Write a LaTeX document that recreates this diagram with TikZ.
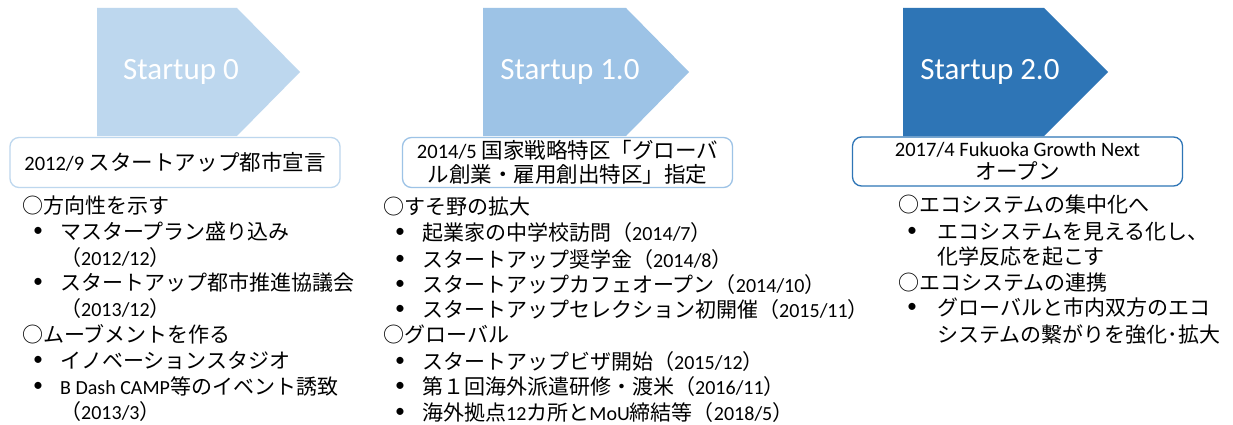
\documentclass[tikz,border=0pt]{standalone}
\usepackage{fontspec}
\setmainfont{Carlito}
\newfontfamily\jpf[Scale=1.05]{Noto Sans CJK JP}
\newcommand\J[1]{{\jpf #1}}
\definecolor{cA}{HTML}{BDD7EE}
\definecolor{cB}{HTML}{9DC3E6}
\definecolor{cC}{HTML}{2E75B6}
\tikzset{
  stagelabel/.style={text=white,font=\fontsize{31}{36}\selectfont,inner sep=0pt},
  datebox/.style={draw=#1,line width=1.3pt,fill=white,rounded corners=9pt,minimum width=330pt,minimum height=50pt,align=center,inner sep=0pt,font=\fontsize{20.5}{23.5}\selectfont},
  item/.style={anchor=base west,inner sep=0pt,font=\fontsize{20}{24}\selectfont},
  dot/.style={inner sep=0pt,font=\fontsize{20}{24}\selectfont}
}
\begin{document}
\begin{tikzpicture}[x=1pt,y=-1pt]
\useasboundingbox[fill=white] (0,0) rectangle (1233,425);
% stage arrows
\fill[cA] (97,8) -- (237,8) -- (300,72) -- (237,136) -- (97,136) -- cycle;
\fill[cB] (483,8) -- (626,8) -- (689,72) -- (626,136) -- (483,136) -- cycle;
\fill[cC] (903,8) -- (1044,8) -- (1108,72) -- (1044,136) -- (903,136) -- cycle;
\node[stagelabel] (s0) at (181,72) {Startup 0};
\node[stagelabel] (s1) at (570,72) {Startup 1.0};
\node[stagelabel] (s2) at (990,72) {Startup 2.0};
% date boxes
\node[datebox=cA] (d0) at (175,162.5) {2012/9 \J{スタートアップ都市宣言}};
\node[datebox=cB] (d1) at (567.5,162.5) {2014/5 \J{国家戦略特区「グローバ}\\\J{ル創業・雇用創出特区」指定}};
\node[datebox=cC,minimum height=49pt] (d2) at (1017.5,161.5) {2017/4 Fukuoka Growth Next\\\J{オープン}};
% column 1
\node[item] (h11) at (22,213) {\J{○方向性を示す}};
\node[dot] (b11) at (38,232) {•};
\node[item] (t11) at (60,239) {\J{マスタープラン盛り込み}};
\node[item] (t11b) at (60,265) {\J{（}2012/12\J{）}};
\node[dot] (b12) at (38,283) {•};
\node[item] (t12) at (60,290) {\J{スタートアップ都市推進協議会}};
\node[item] (t12b) at (60,316) {\J{（}2013/12\J{）}};
\node[item] (h12) at (22,342) {\J{○ムーブメントを作る}};
\node[dot] (b13) at (38,361) {•};
\node[item] (t13) at (60,368) {\J{イノベーションスタジオ}};
\node[dot] (b14) at (38,387) {•};
\node[item] (t14) at (60,394) {B Dash CAMP\J{等のイベント誘致}};
\node[item] (t14b) at (60,419) {\J{（}2013/3\J{）}};
% column 2
\node[item] (h21) at (383,214) {\J{○すそ野の拡大}};
\node[dot] (b21) at (400,233) {•};
\node[item] (t21) at (422,240) {\J{起業家の中学校訪問（}2014/7\J{）}};
\node[dot] (b22) at (400,260) {•};
\node[item] (t22) at (422,267) {\J{スタートアップ奨学金（}2014/8\J{）}};
\node[dot] (b23) at (400,285) {•};
\node[item] (t23) at (422,292) {\J{スタートアップカフェオープン（}2014/10\J{）}};
\node[dot] (b24) at (400,310) {•};
\node[item] (t24) at (422,317) {\J{スタートアップセレクション初開催（}2015/11\J{）}};
\node[item] (h22) at (383,342) {\J{○グローバル}};
\node[dot] (b25) at (400,362) {•};
\node[item] (t25) at (422,369) {\J{スタートアップビザ開始（}2015/12\J{）}};
\node[dot] (b26) at (400,387) {•};
\node[item] (t26) at (422,394) {\J{第１回海外派遣研修・渡米（}2016/11\J{）}};
\node[dot] (b27) at (400,413) {•};
\node[item] (t27) at (422,420) {\J{海外拠点}12\J{カ所と}MoU\J{締結等（}2018/5\J{）}};
% column 3
\node[item] (h31) at (898,212) {\J{○エコシステムの集中化へ}};
\node[dot] (b31) at (912,232) {•};
\node[item] (t31) at (937,239) {\J{エコシステムを見える化し、}};
\node[item] (t31b) at (937,264) {\J{化学反応を起こす}};
\node[item] (h32) at (898,290) {\J{○エコシステムの連携}};
\node[dot] (b32) at (912,308) {•};
\node[item] (t32) at (937,315) {\J{グローバルと市内双方のエコ}};
\node[item] (t32b) at (937,342) {\J{システムの繋がりを強化･拡大}};
\end{tikzpicture}
\end{document}
